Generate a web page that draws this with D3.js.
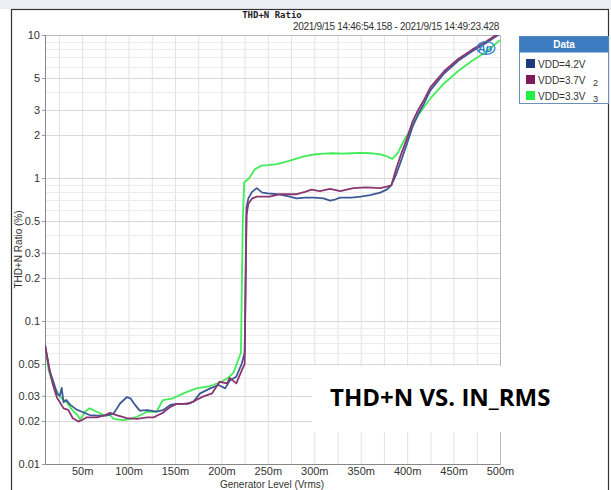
<!DOCTYPE html>
<meta charset="utf-8">
<style>
body { margin: 0; background: #fff; }
svg { display: block; font-family: "Liberation Sans", Arial, sans-serif; }
.axis text { fill: #333; font-size: 11px; }
.axis line { stroke: #999; }
</style>
<body>
<script src="https://d3js.org/d3.v7.min.js"></script>
<script>

// generator level (mV) and THD+N ratio (%) per supply voltage
var lvl42 = [10, 15, 20, 23, 26, 28, 30, 33, 37, 44, 51, 58, 66, 76, 84, 91, 98, 102, 107, 112, 120, 130, 137, 145, 152, 163, 170, 177, 188, 197, 204, 209, 216, 222, 225, 227, 229, 233, 238, 244, 250, 260, 270, 281, 290, 300, 310, 317, 323, 328, 340, 350, 360, 371, 378, 383, 388, 394, 400, 406, 412, 418, 425, 440, 455, 470, 485, 500];
var thd42 = [0.068, 0.045, 0.036, 0.031, 0.030, 0.034, 0.027, 0.028, 0.026, 0.024, 0.023, 0.022, 0.0218, 0.0218, 0.0226, 0.0266, 0.0293, 0.0288, 0.0259, 0.0236, 0.0238, 0.0232, 0.0238, 0.0259, 0.0263, 0.0263, 0.0273, 0.0312, 0.0338, 0.0357, 0.0338, 0.0383, 0.0408, 0.0506, 0.06, 0.62, 0.72, 0.80, 0.85, 0.79, 0.78, 0.77, 0.75, 0.72, 0.73, 0.73, 0.72, 0.694, 0.71, 0.73, 0.73, 0.74, 0.76, 0.79, 0.83, 0.89, 1.05, 1.35, 1.75, 2.3, 2.8, 3.3, 4.1, 5.4, 6.6, 7.7, 8.8, 10.2];

var lvl37 = [10, 15, 19, 23, 26, 30, 35, 40, 46, 50, 55, 66, 75, 80, 87, 98, 109, 120, 127, 132, 137, 145, 152, 159, 166, 173, 180, 190, 198, 206, 209, 216, 222, 225, 227, 229, 233, 238, 245, 252, 263, 270, 281, 290, 297, 306, 317, 328, 342, 356, 371, 378, 383, 388, 394, 400, 406, 412, 418, 425, 440, 455, 470, 485, 500];
var thd37 = [0.068, 0.045, 0.035, 0.029, 0.027, 0.0245, 0.0239, 0.0209, 0.0198, 0.0203, 0.0212, 0.0212, 0.022, 0.0228, 0.022, 0.0209, 0.0207, 0.0212, 0.0212, 0.022, 0.0228, 0.0251, 0.0263, 0.0263, 0.0266, 0.028, 0.0296, 0.0312, 0.0376, 0.0366, 0.04, 0.0366, 0.0454, 0.05, 0.55, 0.66, 0.72, 0.74, 0.74, 0.74, 0.77, 0.77, 0.77, 0.80, 0.83, 0.81, 0.84, 0.81, 0.85, 0.86, 0.85, 0.87, 0.89, 1.15, 1.5, 1.9, 2.5, 3.0, 3.5, 4.3, 5.6, 6.8, 7.9, 9.0, 10.4];

var lvl33 = [10, 14, 18, 22, 26, 30, 33, 37, 41, 45, 48, 53, 58, 66, 73, 80, 84, 94, 102, 109, 120, 130, 137, 148, 159, 173, 188, 200, 207, 213, 218, 221, 223, 224.5, 230, 236, 243, 250, 260, 270, 280, 290, 300, 310, 320, 330, 340, 350, 360, 370, 378, 384, 390, 396, 402, 407, 416, 425, 440, 455, 470, 485, 500];
var thd33 = [0.068, 0.045, 0.037, 0.033, 0.0296, 0.028, 0.0273, 0.025, 0.0232, 0.022, 0.0203, 0.0232, 0.0245, 0.0232, 0.022, 0.022, 0.0207, 0.0203, 0.0207, 0.0214, 0.0232, 0.0232, 0.028, 0.0288, 0.0312, 0.0338, 0.0351, 0.0376, 0.040, 0.0435, 0.0533, 0.06, 0.5, 0.93, 1.0, 1.15, 1.22, 1.23, 1.25, 1.3, 1.36, 1.42, 1.46, 1.48, 1.49, 1.48, 1.49, 1.5, 1.49, 1.47, 1.42, 1.36, 1.5, 1.8, 2.1, 2.45, 3.0, 3.6, 4.6, 5.6, 6.6, 7.6, 9.2];

var seriesNames = ["VDD=4.2V", "VDD=3.7V", "VDD=3.3V"];
var seriesSub = ["", "2", "3"];
var lineColors = ["#3d5a96", "#8b3573", "#40ec5a"];
var keyColors = ["#1c3a7e", "#7c1a5c", "#22ee44"];

var xTicks = [50, 100, 150, 200, 250, 300, 350, 400, 450, 500];
var yTicks = [0.01, 0.02, 0.03, 0.05, 0.1, 0.2, 0.3, 0.5, 1, 2, 3, 5, 10];

var W = 611, H = 490;
var plot = {left: 45, right: 500, top: 35, bottom: 464};

var x = d3.scaleLinear().domain([10, 500]).range([plot.left, plot.right]);
var y = d3.scaleLog().domain([0.01, 10]).range([plot.bottom, plot.top]);

var svg = d3.select("body").append("svg")
    .attr("width", W)
    .attr("height", H);

// window band and frame
svg.append("rect").attr("x", 0).attr("y", 0).attr("width", W).attr("height", 9).attr("fill", "#eceff4");
svg.append("rect").attr("x", 11.5).attr("y", 9.5).attr("width", 597).attr("height", 490)
    .attr("fill", "none").attr("stroke", "#333").attr("stroke-width", 1.2);

// grid
var vgrid = d3.range(25, 500, 25);
svg.append("g").selectAll("line").data(vgrid).enter().append("line")
    .attr("x1", d => x(d) + 0.5).attr("x2", d => x(d) + 0.5)
    .attr("y1", plot.top).attr("y2", plot.bottom)
    .attr("stroke", "#e2e2e2");

var hgrid = [];
[0.01, 0.1, 1].forEach(function(dec) {
  for (var k = 1; k <= 9; k++) hgrid.push(dec * k);
});
hgrid.push(10);
svg.append("g").selectAll("line").data(hgrid).enter().append("line")
    .attr("x1", plot.left).attr("x2", plot.right)
    .attr("y1", d => Math.round(y(d)) + 0.5).attr("y2", d => Math.round(y(d)) + 0.5)
    .attr("stroke", d => yTicks.some(t => Math.abs(t - d) < 1e-9) ? "#d8d8d8" : "#ececec");

// plot frame
svg.append("rect").attr("x", plot.left + 0.5).attr("y", plot.top + 0.5)
    .attr("width", plot.right - plot.left).attr("height", plot.bottom - plot.top)
    .attr("fill", "none").attr("stroke", "#b8b8b8");
svg.append("path")
    .attr("d", "M" + (plot.left + 0.5) + "," + plot.top + "V" + (plot.bottom + 0.5) + "H" + plot.right)
    .attr("fill", "none").attr("stroke", "#888");

// axes
var yAxis = svg.append("g").attr("class", "axis")
    .attr("transform", "translate(" + plot.left + ",0)")
    .call(d3.axisLeft(y).tickValues(yTicks).tickFormat(d3.format("~g")).tickSize(3).tickPadding(2));
yAxis.select(".domain").remove();

var xAxis = svg.append("g").attr("class", "axis")
    .attr("transform", "translate(0," + plot.bottom + ")")
    .call(d3.axisBottom(x).tickValues(xTicks).tickFormat(d => d + "m").tickSize(0).tickPadding(3));
xAxis.select(".domain").remove();

// white box behind the caption
svg.append("rect").attr("x", 312).attr("y", 366).attr("width", 290).attr("height", 66).attr("fill", "#fff");

// series
svg.append("clipPath").attr("id", "clip").append("rect")
    .attr("x", plot.left).attr("y", plot.top)
    .attr("width", plot.right - plot.left).attr("height", plot.bottom - plot.top);

var line = d3.line().x(d => x(d[0])).y(d => y(d[1]));
var series = [d3.zip(lvl42, thd42), d3.zip(lvl37, thd37), d3.zip(lvl33, thd33)];
var drawOrder = [2, 0, 1];
drawOrder.forEach(function(i) {
  svg.append("path")
      .datum(series[i])
      .attr("clip-path", "url(#clip)")
      .attr("fill", "none")
      .attr("stroke", lineColors[i])
      .attr("stroke-width", 1.8)
      .attr("stroke-linejoin", "round")
      .attr("d", line);
});

// Ap logo
var logo = svg.append("g").attr("transform", "translate(486,48)");
logo.append("ellipse").attr("rx", 9).attr("ry", 6.5).attr("fill", "none").attr("stroke", "#2f7fc4").attr("stroke-width", 1.2);
logo.append("text").attr("x", -1).attr("y", 4).attr("text-anchor", "middle")
    .style("font", "italic bold 11px 'Liberation Sans'").attr("fill", "#2f7fc4").text("Ap");

// titles
svg.append("text").attr("x", 272).attr("y", 18).attr("text-anchor", "middle")
    .style("font", "bold 9px 'DejaVu Sans Mono'").attr("fill", "#222").text("THD+N Ratio");
svg.append("text").attr("x", 499).attr("y", 30).attr("text-anchor", "end")
    .style("font-size", "10px").style("letter-spacing", "-0.3px").attr("fill", "#333")
    .text("2021/9/15 14:46:54.158 - 2021/9/15 14:49:23.428");

svg.append("text").attr("transform", "translate(22," + (plot.top + plot.bottom) / 2 + ") rotate(-90)")
    .attr("text-anchor", "middle").style("font-size", "10px").attr("fill", "#333")
    .text("THD+N Ratio (%)");
svg.append("text").attr("x", 272).attr("y", 488).attr("text-anchor", "middle")
    .style("font-size", "10px").attr("fill", "#333").text("Generator Level (Vrms)");

svg.append("text").attr("x", 330).attr("y", 406)
    .style("font", "bold 24px 'Open Sans'").attr("fill", "#000").text("THD+N VS. IN_RMS");

// legend
var lg = svg.append("g").attr("transform", "translate(519,36)");
lg.append("rect").attr("x", 0.5).attr("y", 0.5).attr("width", 89).attr("height", 67)
    .attr("fill", "#fff").attr("stroke", "#6d8fb8");
lg.append("rect").attr("x", 0.5).attr("y", 0.5).attr("width", 89).attr("height", 16)
    .attr("fill", "#3d7cc0");
lg.append("text").attr("x", 45).attr("y", 12).attr("text-anchor", "middle")
    .style("font", "bold 10px 'Liberation Sans'").attr("fill", "#fff").text("Data");
seriesNames.forEach(function(name, i) {
  var ty = 28 + i * 16;
  lg.append("rect").attr("x", 7).attr("y", ty - 5).attr("width", 9).attr("height", 9).attr("fill", keyColors[i]);
  lg.append("text").attr("x", 19).attr("y", ty + 3.5).style("font-size", "10px").attr("fill", "#333").text(name);
  if (seriesSub[i]) {
    lg.append("text").attr("x", 74).attr("y", ty + 6).style("font-size", "9px").attr("fill", "#333").text(seriesSub[i]);
  }
});

</script>
</body>
